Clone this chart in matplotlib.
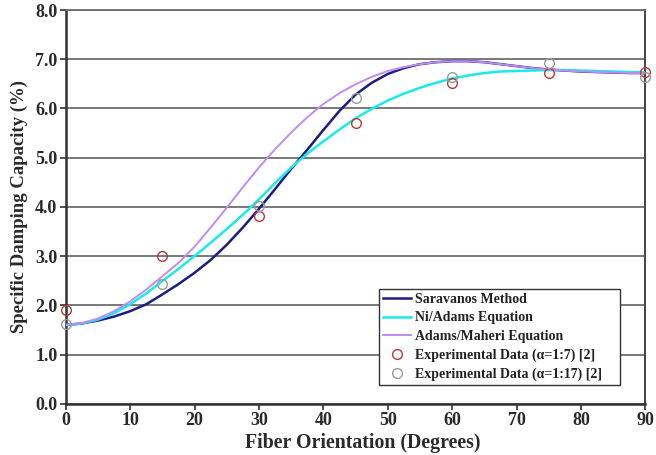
import matplotlib
matplotlib.use("Agg")
import matplotlib.pyplot as plt

# fiber angle grid for the model curves (degrees)
angle = [0, 2.5, 5, 7.5, 10, 12.5, 15, 17.5, 20, 22.5, 25, 27.5, 30, 32.5, 35,
         37.5, 40, 42.5, 45, 47.5, 50, 52.5, 55, 57.5, 60, 62.5, 65, 67.5, 70,
         72.5, 75, 77.5, 80, 82.5, 85, 87.5, 90]

saravanos = [1.60, 1.63, 1.69, 1.77, 1.88, 2.02, 2.22, 2.43, 2.66, 2.92, 3.23,
             3.58, 3.96, 4.36, 4.77, 5.16, 5.56, 5.95, 6.28, 6.52, 6.70, 6.82,
             6.90, 6.94, 6.96, 6.96, 6.94, 6.90, 6.86, 6.82, 6.79, 6.77, 6.75,
             6.74, 6.73, 6.72, 6.72]
ni_adams = [1.60, 1.63, 1.71, 1.84, 2.02, 2.24, 2.49, 2.74, 3.00, 3.27, 3.55,
            3.84, 4.15, 4.48, 4.80, 5.08, 5.33, 5.57, 5.80, 5.99, 6.16, 6.30,
            6.42, 6.52, 6.61, 6.67, 6.72, 6.75, 6.76, 6.77, 6.78, 6.78, 6.77,
            6.76, 6.75, 6.74, 6.73]
adams_maheri = [1.60, 1.64, 1.73, 1.88, 2.08, 2.32, 2.59, 2.86, 3.19, 3.58,
                3.98, 4.40, 4.80, 5.17, 5.51, 5.82, 6.09, 6.31, 6.49, 6.64,
                6.76, 6.84, 6.90, 6.94, 6.96, 6.96, 6.94, 6.90, 6.86, 6.82,
                6.79, 6.77, 6.75, 6.74, 6.73, 6.72, 6.72]

# measured points
exp_angle = [0, 15, 30, 45, 60, 75, 90]
exp_a7 = [1.90, 3.00, 3.82, 5.70, 6.52, 6.72, 6.74]
exp_a17 = [1.62, 2.43, 4.02, 6.22, 6.63, 6.92, 6.63]

serif = ["Liberation Serif", "DejaVu Serif"]
plt.rcParams["font.family"] = serif
plt.rcParams["font.weight"] = "bold"

fig = plt.figure(figsize=(6.56, 4.55), dpi=100)
ax = fig.add_axes([0.1002, 0.1127, 0.8835, 0.8653])

ax.plot(angle, saravanos, color="#1c1c84", lw=1.8, label="Saravanos Method", zorder=3)
ax.plot(angle, ni_adams, color="#19eaea", lw=1.8, label="Ni/Adams Equation", zorder=3)
ax.plot(angle, adams_maheri, color="#c08cf2", lw=1.4, label="Adams/Maheri Equation", zorder=4)
ax.plot(exp_angle, exp_a7, ls="none", marker="o", ms=7, mfc="none", mec="#b83a3a",
        mew=1.0, label="Experimental Data (α=1:7) [2]", zorder=5, clip_on=False)
ax.plot(exp_angle, exp_a17, ls="none", marker="o", ms=7, mfc="none", mec="#9a9a9a",
        mew=1.0, label="Experimental Data (α=1:17) [2]", zorder=5, clip_on=False)

ax.set_xlim(0, 90)
ax.set_ylim(0, 8)
ax.set_xticks(range(0, 91, 10))
ax.set_yticks(range(0, 9))
ax.set_yticklabels([f"{v:.1f}" for v in range(0, 9)])
ax.yaxis.grid(True, color="#6e6e6e", lw=1.3)
ax.set_axisbelow(True)

for side in ["left", "bottom"]:
    ax.spines[side].set_color("#333333")
    ax.spines[side].set_linewidth(1.8)
ax.spines["right"].set_color("#444444")
ax.spines["right"].set_linewidth(1.4)
ax.spines["top"].set_color("#6e6e6e")
ax.spines["top"].set_linewidth(1.3)

ax.tick_params(axis="both", direction="out", length=4, width=1.2, color="#333333",
               labelsize=13, pad=2)
for lab in ax.get_xticklabels() + ax.get_yticklabels():
    lab.set_fontweight("bold")
    lab.set_color("#2a2a2a")

ax.set_xlabel("Fiber Orientation (Degrees)", fontsize=14.3, fontweight="bold",
              color="#2a2a2a", labelpad=3)
ax.xaxis.label.set_x(0.513)
ax.set_ylabel("Specific Damping Capacity (%)", fontsize=13.5, fontweight="bold",
              color="#2a2a2a", labelpad=5)

leg = ax.legend(loc="lower left", bbox_to_anchor=(0.54, 0.047, 0.416, 0.246),
                mode="expand", borderaxespad=0, frameon=True, fancybox=False,
                framealpha=1, edgecolor="#333333", handlelength=2.0,
                handletextpad=0.3, borderpad=0.3, labelspacing=0.4,
                prop={"family": serif, "weight": "bold", "size": 10})
leg.get_frame().set_linewidth(1.0)
for t in leg.get_texts():
    t.set_color("#222222")

fig.savefig("out.png", dpi=100)
